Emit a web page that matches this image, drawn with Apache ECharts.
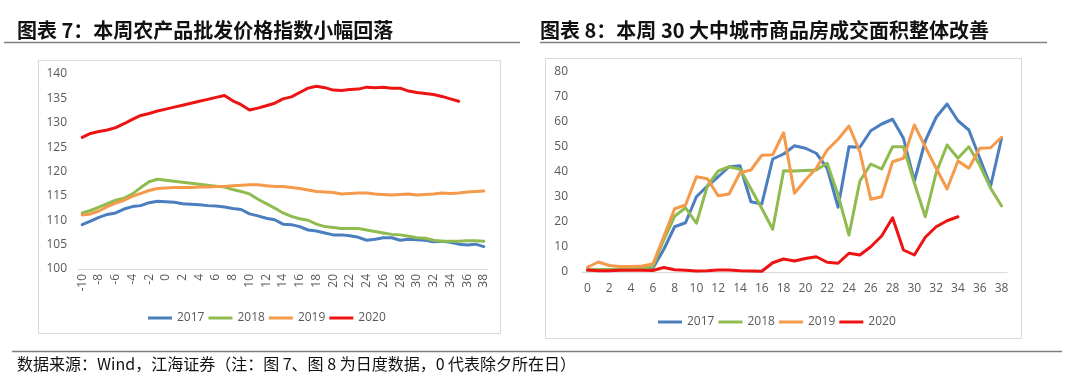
<!DOCTYPE html>
<html><head><meta charset="utf-8">
<script src="https://cdn.jsdelivr.net/npm/echarts@6/dist/echarts.min.js"></script>
<style>html,body{margin:0;padding:0;background:#fff}#c{width:1080px;height:380px}</style>
</head><body><div id="c"></div>
<script>
// ---- data ----
const seriesNames = ['2017', '2018', '2019', '2020'];
const colors = ['#4a7ebf', '#8fbb4f', '#f5994b', '#ee1313'];

const leftDays = ['-10','-9','-8','-7','-6','-5','-4','-3','-2','-1','0','1','2','3','4','5','6','7','8','9','10','11','12','13','14','15','16','17','18','19','20','21','22','23','24','25','26','27','28','29','30','31','32','33','34','35','36','37','38'];
const left2017 = [109.1,109.8,110.6,111.2,111.5,112.3,112.8,113.0,113.6,113.9, 113.8,113.7,113.4,113.3,113.2,113.0,112.9,112.7,112.4,112.2, 111.3,110.9,110.4,110.1,109.2,109.1,108.7,108.0,107.8,107.4, 107.0,107.0,106.8,106.5,105.9,106.1,106.4,106.4,105.9,106.1, 106.0,105.9,105.6,105.7,105.5,105.1,104.9,105.1,104.6];
const left2018 = [111.5,112.0,112.7,113.4,114.1,114.5,115.4,116.7,117.9,118.4, 118.2,118.0,117.8,117.6,117.4,117.2,117.0,116.8,116.3,115.9, 115.4,114.3,113.4,112.5,111.5,110.8,110.3,110.0,109.2,108.7, 108.5,108.3,108.3,108.3,108.0,107.7,107.4,107.1,107.0,106.7, 106.4,106.3,105.9,105.7,105.7,105.7,105.8,105.8,105.7];
const left2019 = [111.1,111.3,111.9,112.8,113.5,114.1,114.9,115.5,116.1,116.5, 116.6,116.7,116.7,116.7,116.8,116.8,116.9,116.9,117.1,117.2, 117.3,117.3,117.1,116.9,116.9,116.7,116.5,116.2,115.9,115.8, 115.7,115.4,115.5,115.6,115.6,115.4,115.3,115.2,115.3,115.4, 115.2,115.3,115.4,115.6,115.5,115.6,115.8,115.9,116.0];
const left2020 = [127.0,127.8,128.2,128.5,129.0,129.8,130.7,131.5,131.9,132.4, 132.8,133.2,133.6,134.0,134.4,134.8,135.2,135.6,134.5,133.7, 132.6,133.0,133.5,134.0,134.9,135.3,136.2,137.1,137.5,137.2, 136.7,136.6,136.8,136.9,137.3,137.2,137.3,137.1,137.1,136.5, 136.2,136.0,135.8,135.4,134.9,134.4,null,null,null];

const rightDays = ['0','1','2','3','4','5','6','7','8','9','10','11','12','13','14','15','16','17','18','19','20','21','22','23','24','25','26','27','28','29','30','31','32','33','34','35','36','37','38'];
const right2017 = [0.8,0.8,0.8,0.9,1.0,1.1,1.5,9.0,18.1,19.7, 30.1,34.4,38.1,42.1,42.5,28.1,27.2,45.2,47.2,50.5, 49.5,47.5,41.5,25.9,50.1,49.9,56.5,59.2,61.1,53.5, 36.4,52.4,61.9,67.2,60.5,56.8,45.5,34.4,53.5];
const right2018 = [0.8,1.0,1.0,1.2,1.5,1.6,2.1,12.8,22.3,25.7, 19.5,34.4,40.4,42.1,41.1,33.3,25.4,17.1,40.5,40.4, 40.6,40.8,43.5,30.8,14.8,36.4,43.2,41.2,50.1,50.1, 35.5,22.1,39.7,50.8,45.5,50.1,42.8,33.5,26.4];
const right2019 = [1.9,4.0,2.6,2.2,2.2,2.4,3.2,14.1,25.3,26.8, 38.1,37.3,30.5,31.2,39.7,40.8,46.7,46.9,55.7,31.5, 36.8,41.5,48.8,53.1,58.4,48.1,29.1,30.1,44.1,45.5, 58.8,50.1,41.5,33.2,44.4,41.5,49.5,49.7,53.9];
const right2020 = [0.8,0.5,0.5,0.7,0.7,0.7,0.6,1.8,0.9,0.7, 0.4,0.5,0.8,0.8,0.5,0.4,0.3,3.7,5.2,4.4, 5.4,6.1,3.9,3.5,7.5,6.8,10.1,14.4,21.7,8.8, 6.8,13.9,18.1,20.5,22.1,null,null,null,null];

const title7 = '图表 7：本周农产品批发价格指数小幅回落';
const title8 = '图表 8：本周 30 大中城市商品房成交面积整体改善';
const sourceNote = '数据来源：Wind，江海证券（注：图 7、图 8 为日度数据，0 代表除夕所在日）';

// ---- chart ----
const chart = echarts.init(document.getElementById('c'));
const axisFont = 'Open Sans, Noto Sans, sans-serif';
const labelColor = '#595959';
const leftData = [left2017, left2018, left2019, left2020];
const rightData = [right2017, right2018, right2019, right2020];

function mkSeries(dataSets, idx) {
  return dataSets.map((d, i) => ({
    name: seriesNames[i], type: 'line', xAxisIndex: idx, yAxisIndex: idx,
    data: d, symbol: 'none', smooth: false, connectNulls: false,
    lineStyle: { width: 3, color: colors[i], cap: 'round', join: 'round' },
    itemStyle: { color: colors[i] }, z: 2 + i, animation: false
  }));
}

const legendBase = {
  data: seriesNames, icon: 'rect', itemWidth: 24, itemHeight: 3, itemGap: 4,
  textStyle: { color: labelColor, fontSize: 12, fontFamily: axisFont }, selectedMode: false
};

chart.setOption({
  animation: false,
  color: colors,
  grid: [
    { left: 78, top: 74, width: 410, height: 195, containLabel: false },
    { left: 582, top: 72, width: 425, height: 200, containLabel: false }
  ],
  xAxis: [
    { type: 'category', gridIndex: 0, data: leftDays, boundaryGap: true,
      axisLine: { lineStyle: { color: '#d9d9d9', width: 1 } }, axisTick: { show: false },
      axisLabel: { interval: 1, rotate: 90, color: labelColor, fontSize: 12, fontFamily: axisFont, margin: 5 } },
    { type: 'category', gridIndex: 1, data: rightDays, boundaryGap: true,
      axisLine: { lineStyle: { color: '#d9d9d9', width: 1 } }, axisTick: { show: false },
      axisLabel: { interval: 1, color: labelColor, fontSize: 12, fontFamily: axisFont, margin: 11 } }
  ],
  yAxis: [
    { type: 'value', gridIndex: 0, min: 100, max: 140, interval: 5,
      axisLine: { show: false }, axisTick: { show: false }, splitLine: { show: false },
      axisLabel: { color: labelColor, fontSize: 12, fontFamily: axisFont, margin: 11 } },
    { type: 'value', gridIndex: 1, min: 0, max: 80, interval: 10,
      axisLine: { show: false }, axisTick: { show: false }, splitLine: { show: false },
      axisLabel: { color: labelColor, fontSize: 12, fontFamily: axisFont, margin: 14 } }
  ],
  legend: [
    Object.assign({}, legendBase, { left: 143, top: 307 }),
    Object.assign({}, legendBase, { left: 653, top: 311 })
  ],
  series: mkSeries(leftData, 0).concat(mkSeries(rightData, 1)),
  graphic: [
    { type: 'rect', shape: { x: 38.5, y: 60.5, width: 462, height: 273 }, style: { fill: 'none', stroke: '#d9d9d9', lineWidth: 1 }, z: 0 },
    { type: 'rect', shape: { x: 545.5, y: 58.5, width: 476, height: 280 }, style: { fill: 'none', stroke: '#d9d9d9', lineWidth: 1 }, z: 0 },
    { type: 'text', x: 17, y: 30, style: { text: title7, fill: '#111', font: 'bold 20px "Noto Sans CJK SC", sans-serif', textVerticalAlign: 'middle' } },
    { type: 'text', x: 540, y: 30, style: { text: title8, fill: '#111', font: 'bold 20px "Noto Sans CJK SC", sans-serif', textVerticalAlign: 'middle' } },
    { type: 'line', shape: { x1: 4, y1: 42.5, x2: 520, y2: 42.5 }, style: { stroke: '#7f7f7f', lineWidth: 1.5 } },
    { type: 'line', shape: { x1: 540, y1: 42.5, x2: 1047, y2: 42.5 }, style: { stroke: '#7f7f7f', lineWidth: 1.5 } },
    { type: 'line', shape: { x1: 12, y1: 351.5, x2: 1062, y2: 351.5 }, style: { stroke: '#7f7f7f', lineWidth: 1.5 } },
    { type: 'text', x: 17, y: 364, style: { text: sourceNote, fill: '#111', font: '16px "Noto Sans CJK SC", sans-serif', textVerticalAlign: 'middle' } }
  ]
});
</script></body></html>
